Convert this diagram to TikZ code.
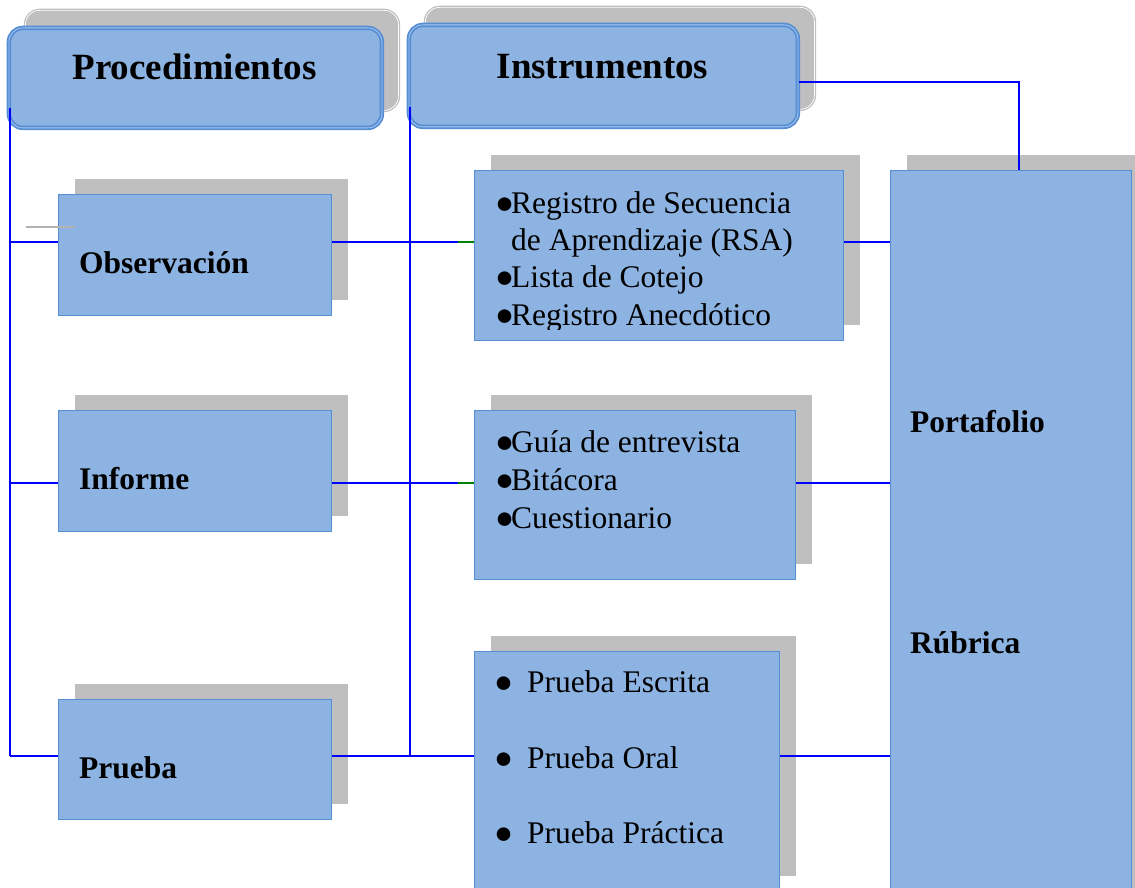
\documentclass[tikz,border=0pt]{standalone}
\usepackage{fontspec}
\setmainfont{Liberation Serif}
\usepackage{tikz}
\usetikzlibrary{shadows}

\definecolor{boxfill}{HTML}{8DB3E2}
\definecolor{boxedge}{HTML}{558ED5}
\definecolor{headlight}{HTML}{A9C7EE}
\definecolor{shadowgray}{HTML}{BFBFBF}
\definecolor{linkblue}{HTML}{0000FF}
\definecolor{linkgreen}{HTML}{008000}

\newcommand{\bigdot}{●}
\newcommand{\tightdot}{\makebox[16pt][l]{\bigdot}}

\tikzset{
  header/.style={draw=boxedge, fill=boxfill, rounded corners=14pt, line width=1.8pt,
    double=headlight, double distance=0.8pt, anchor=north west, inner sep=0pt,
    copy shadow={shadow xshift=16.5pt, shadow yshift=17.5pt, fill=shadowgray,
      draw=shadowgray, double=white, line width=1.3pt, double distance=0.7pt}},
  card/.style={draw=boxedge, fill=boxfill, line width=1.3pt, anchor=north west, inner sep=0pt,
    copy shadow={shadow xshift=16pt, shadow yshift=16pt, fill=shadowgray, draw=none}},
  headtext/.style={font=\fontsize{37}{44}\selectfont\bfseries, inner sep=0pt, anchor=base},
  cardtext/.style={font=\fontsize{31.5}{38}\selectfont\bfseries, inner sep=0pt, anchor=base west},
  itemtext/.style={font=\fontsize{31.5}{38}\selectfont, inner sep=0pt, anchor=base west},
  link/.style={draw=linkblue, line width=1.8pt},
  greenlink/.style={draw=linkgreen, line width=1.8pt},
  stray/.style={draw=black!30, line width=1.6pt}
}

\begin{document}
\begin{tikzpicture}[x=1pt, y=-1pt]
\useasboundingbox (0,0) rectangle (1135,888);

\node[header, minimum width=373, minimum height=100] (proc) at (8,27) {};
\node[header, minimum width=389, minimum height=102] (ins) at (408,24) {};
\node[headtext] (proctitle) at (194.5,80) {Procedimientos};
\node[headtext] (institle) at (602.5,79) {Instrumentos};

\node[card, minimum width=273, minimum height=121] (obs) at (58,194) {};
\node[card, minimum width=273, minimum height=121] (inf) at (58,410) {};
\node[card, minimum width=273, minimum height=120] (prb) at (58,699) {};
\node[cardtext] (obstext) at (79,273) {Observación};
\node[cardtext] (inftext) at (79,489) {Informe};
\node[cardtext] (prbtext) at (79,778) {Prueba};

\node[card, minimum width=369, minimum height=170] (reg) at (474,170) {};
\node[card, minimum width=321, minimum height=169] (gui) at (474,410) {};
\node[card, minimum width=305, minimum height=240] (pru) at (474,651) {};
\node[card, minimum width=241, minimum height=740] (port) at (890,170) {};

\begin{scope}
\clip (474,170) rectangle (843,329);
\node[itemtext] (reg1) at (495,213) {\tightdot Registro de Secuencia};
\node[itemtext] (reg2) at (495,250) {\phantom{\tightdot}de Aprendizaje (RSA)};
\node[itemtext] (reg3) at (495,287) {\tightdot Lista de Cotejo};
\node[itemtext] (reg4) at (495,325) {\tightdot Registro Anecdótico};
\end{scope}

\node[itemtext] (gui1) at (495,452) {\tightdot Guía de entrevista};
\node[itemtext] (gui2) at (495,490) {\tightdot Bitácora};
\node[itemtext] (gui3) at (495,528) {\tightdot Cuestionario};

\node[itemtext] (pru1) at (494,692) {\makebox[33pt][l]{\bigdot}Prueba Escrita};
\node[itemtext] (pru2) at (494,768) {\makebox[33pt][l]{\bigdot}Prueba Oral};
\node[itemtext] (pru3) at (494,843) {\makebox[33pt][l]{\bigdot}Prueba Práctica};

\node[cardtext] (porttext) at (910,432) {Portafolio};
\node[cardtext] (rubtext) at (910,653) {Rúbrica};

\coordinate (row1) at (0,242);
\coordinate (row2) at (0,483);
\coordinate (row3) at (0,756);
\coordinate (toprow) at (0,82);
\coordinate (spine) at ([shift={(2,-21)}]proc.south west);
\coordinate (midspine) at ([shift={(2,-21)}]ins.south west);
\coordinate (graymark) at (26,227);

\draw[stray] (graymark) -- ++(49,0);

\draw[link] (spine) -- (spine |- row3);
\draw[link] (spine |- row1) -- (obs.west |- row1);
\draw[link] (spine |- row2) -- (inf.west |- row2);
\draw[link] (spine |- row3) -- (prb.west |- row3);

\draw[link] (midspine) -- (midspine |- row3);
\draw[link] (obs.east |- row1) -- (reg.west |- row1);
\draw[greenlink] (reg.west |- row1) -- ++(-16,0);
\draw[link] (inf.east |- row2) -- (gui.west |- row2);
\draw[greenlink] (gui.west |- row2) -- ++(-16,0);
\draw[link] (prb.east |- row3) -- (pru.west |- row3);

\draw[link] (reg.east |- row1) -- (port.west |- row1);
\draw[link] (gui.east |- row2) -- (port.west |- row2);
\draw[link] (pru.east |- row3) -- (port.west |- row3);
\draw[link] (ins.east |- toprow) -| ([xshift=7.5]port.north);
\end{tikzpicture}
\end{document}
